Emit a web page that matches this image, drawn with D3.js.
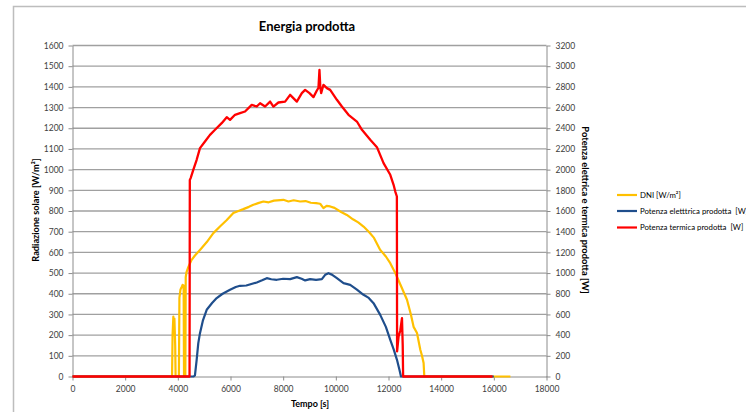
<!DOCTYPE html>
<html><head><meta charset="utf-8">
<script src="https://cdn.jsdelivr.net/npm/d3@7/dist/d3.min.js"></script>
<style>
body{margin:0;background:#fff;}
svg{display:block;font-family:Lato,"Open Sans",sans-serif;}
</style></head>
<body><svg id="c" width="746" height="412"></svg>
<script>
// ---- data ----
const dniT = [0,3780,3800,3830,3850,3870,3900,3915,4040,4060,4100,4140,4180,4220,4235,4285,4300,4330,4400,4525,4650,4841,5100,5348,5600,5850,6108,6300,6488,6700,6869,7050,7249,7450,7650,8009,8200,8400,8644,8850,9050,9250,9405,9530,9650,9785,9950,10200,10420,10650,10850,11052,11250,11450,11686,11900,12067,12258,12450,12702,12850,12953,13082,13208,13272,13333,13360,16630];
const dniV = [0,0,200,290,200,280,150,0,0,380,420,430,443,440,0,0,480,505,530,564,585,612,650,693,725,755,790,800,809,820,830,838,846,842,850,854,846,852,846,848,840,838,835,814,825,822,815,795,781,760,745,725,700,670,612,580,548,500,445,371,300,240,210,129,100,65,0,0];

const eleT = [0,4600,4650,4715,4777,4841,4950,5096,5300,5476,5700,5982,6200,6362,6600,6997,7200,7378,7550,7758,8000,8264,8519,8700,8834,9024,9250,9469,9595,9720,9850,10040,10291,10546,10800,11052,11250,11432,11686,11900,12067,12200,12322,12420,12474,16000];
const eleV = [0,0,10,161,323,419,540,645,710,758,800,838,865,877,880,909,930,951,940,935,945,941,961,945,929,941,935,941,983,999,985,951,903,886,840,790,760,709,596,480,355,260,161,60,0,0];

const terT = [0,4445,4455,4487,4587,4715,4841,5031,5221,5412,5665,5857,5982,6172,6362,6552,6806,6997,7123,7313,7504,7629,7819,8074,8264,8519,8709,8834,8999,9150,9279,9340,9378,9410,9443,9531,9659,9785,10040,10230,10481,10800,10991,11307,11561,11812,12067,12193,12258,12318,12326,12383,12448,12512,12540,12555,15950];
const terV = [0,0,1900,1918,1998,2095,2208,2272,2336,2385,2449,2507,2481,2530,2546,2562,2626,2610,2642,2610,2658,2610,2649,2658,2723,2658,2739,2771,2739,2701,2765,2790,2965,2800,2739,2820,2788,2771,2675,2610,2530,2465,2385,2288,2217,2063,1950,1853,1788,1740,242,387,445,565,300,0,0];

const xTicks = [0,2000,4000,6000,8000,10000,12000,14000,16000,18000];
const yLTicks = d3.range(0,1601,100);
const yRTicks = d3.range(0,3201,200);

const seriesNames = ["DNI [W/m²]","Potenza eletttrica prodotta  [W]","Potenza termica prodotta  [W]"];
const seriesColors = ["#ffc000","#1f4e8c","#ff0000"];

// ---- drawing ----
const svg = d3.select("#c");
const L=72.5, R=546.5, T=45.5, B=376.5;
const x = d3.scaleLinear().domain([0,18000]).range([L,R]);
const yL = d3.scaleLinear().domain([0,1600]).range([B,T]);
const yR = d3.scaleLinear().domain([0,3200]).range([B,T]);

svg.append("rect").attr("x",13.5).attr("y",6.5).attr("width",760).attr("height",420)
  .attr("fill","#fff").attr("stroke","#bdbdbd").attr("stroke-width",1.5);

// gridlines
svg.append("g").selectAll("line").data(yLTicks.filter(d=>d>0)).join("line")
  .attr("x1",L).attr("x2",R).attr("y1",d=>yL(d)).attr("y2",d=>yL(d))
  .attr("stroke","#a0a0a0").attr("stroke-width",1.3);

function styleAxis(g){
  g.select(".domain").attr("stroke","#8c8c8c").attr("stroke-width",1);
  g.selectAll(".tick line").attr("stroke","#8c8c8c");
  g.selectAll(".tick text").attr("fill","#404040").style("font-size","8.5px").style("font-family","Lato");
}
svg.append("g").attr("transform",`translate(${L},0)`)
  .call(d3.axisLeft(yL).tickValues(yLTicks).tickSize(4).tickSizeOuter(0).tickPadding(5).tickFormat(d3.format("d")))
  .call(styleAxis);
svg.append("g").attr("transform",`translate(${R},0)`)
  .call(d3.axisRight(yR).tickValues(yRTicks).tickSize(4).tickSizeOuter(0).tickPadding(5).tickFormat(d3.format("d")))
  .call(styleAxis);
svg.append("g").attr("transform",`translate(0,${B})`)
  .call(d3.axisBottom(x).tickValues(xTicks).tickSize(4).tickSizeOuter(0).tickPadding(5).tickFormat(d3.format("d")))
  .call(styleAxis);

// lines
const lineL = d3.line().x(d=>x(d[0])).y(d=>yL(d[1]));
const lineR = d3.line().x(d=>x(d[0])).y(d=>yR(d[1]));
svg.append("path").datum(d3.zip(dniT,dniV)).attr("d",lineL)
  .attr("fill","none").attr("stroke",seriesColors[0]).attr("stroke-width",2.2).attr("stroke-linejoin","round");
svg.append("path").datum(d3.zip(eleT,eleV)).attr("d",lineR)
  .attr("fill","none").attr("stroke",seriesColors[1]).attr("stroke-width",2.2).attr("stroke-linejoin","round");
svg.append("path").datum(d3.zip(terT,terV)).attr("d",lineR)
  .attr("fill","none").attr("stroke",seriesColors[2]).attr("stroke-width",2.3).attr("stroke-linejoin","round");

// titles
svg.append("text").attr("x",307).attr("y",31).attr("text-anchor","middle")
  .style("font-weight","bold").style("font-size","13px").attr("fill","#000").text("Energia prodotta");
svg.append("text").attr("x",310).attr("y",407).attr("text-anchor","middle")
  .style("font-weight","bold").style("font-size","9px").attr("fill","#000").text("Tempo [s]");
svg.append("text").attr("transform","translate(39,210) rotate(-90)").attr("text-anchor","middle")
  .style("font-weight","bold").style("font-size","9.2px").attr("fill","#000").text("Radiazione solare [W/m²]");
svg.append("text").attr("transform","translate(582,210) rotate(90)").attr("text-anchor","middle")
  .style("font-weight","bold").style("font-size","9.4px").attr("fill","#000").text("Potenza elettrica e termica prodotta [W]");

// legend
const lg = svg.append("g");
const ly = [195,211,227.5];
seriesNames.forEach((n,i)=>{
  lg.append("line").attr("x1",617).attr("x2",637).attr("y1",ly[i]).attr("y2",ly[i])
    .attr("stroke",seriesColors[i]).attr("stroke-width",2.2);
  lg.append("text").attr("x",640).attr("y",ly[i]+2.7).style("font-size","7.8px")
    .style("white-space","pre").attr("fill","#000").text(n);
});
</script></body></html>
